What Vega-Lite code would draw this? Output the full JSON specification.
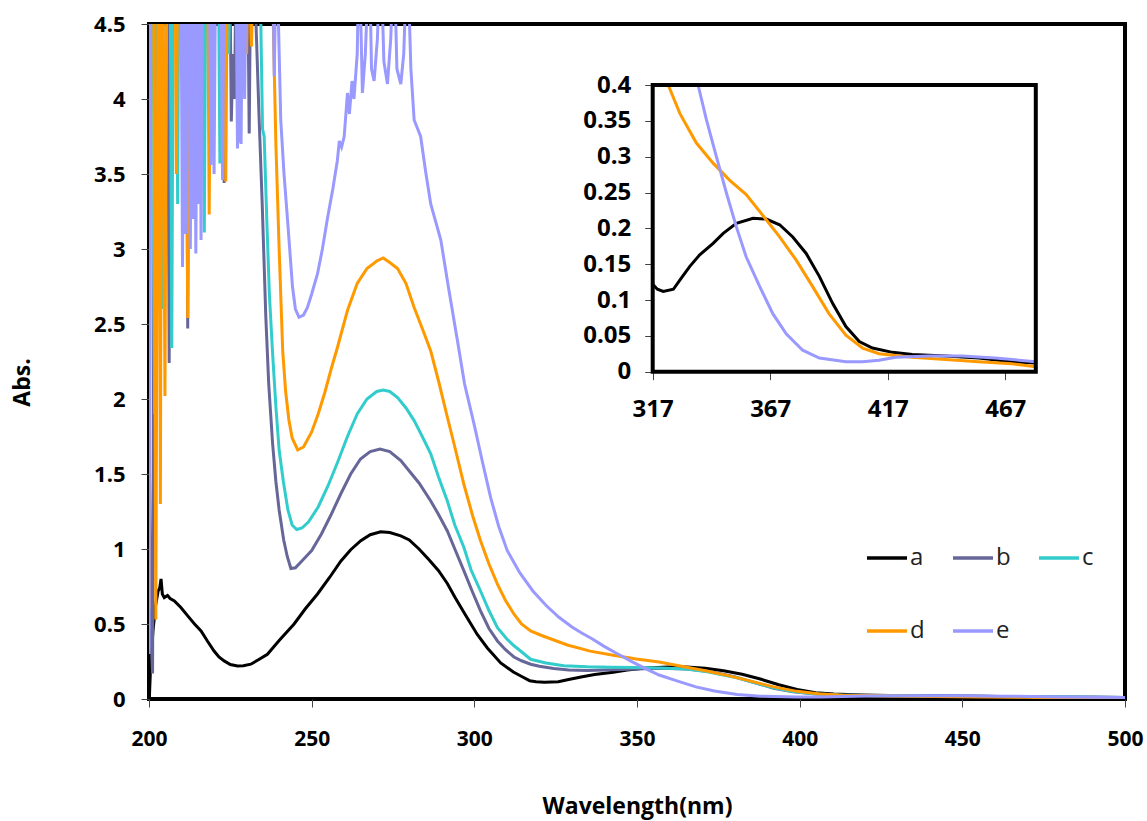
{
  "$schema": "https://vega.github.io/schema/vega-lite/v6.json",
  "width": 976,
  "height": 675,
  "autosize": {"type": "none"},
  "padding": {"left": 149, "top": 24, "right": 22, "bottom": 122},
  "background": "white",
  "config": {
    "font": "Open Sans",
    "view": {"stroke": "black", "strokeWidth": 4},
    "axis": {"grid": false, "domain": false, "labelColor": "black", "tickColor": "#444", "tickWidth": 1, "labelFlush": false, "labelFontWeight": "bold", "titleColor": "black", "titleFontWeight": "bold"}
  },
  "datasets": {
    "spectra": [
      {"s":"a","x":200.1,"y":0.0},{"s":"a","x":200.4,"y":0.17},{"s":"a","x":201.2,"y":0.45},{"s":"a","x":202,"y":0.62},{"s":"a","x":202.8,"y":0.72},{"s":"a","x":203.3,"y":0.74},{"s":"a","x":203.7,"y":0.8},{"s":"a","x":204.1,"y":0.7},{"s":"a","x":204.7,"y":0.676},{"s":"a","x":205.7,"y":0.69},{"s":"a","x":206.5,"y":0.67},{"s":"a","x":207.8,"y":0.654},{"s":"a","x":209.8,"y":0.61},{"s":"a","x":211.9,"y":0.554},{"s":"a","x":214,"y":0.5},{"s":"a","x":216,"y":0.454},{"s":"a","x":218,"y":0.385},{"s":"a","x":220,"y":0.32},{"s":"a","x":221.5,"y":0.28},{"s":"a","x":223.1,"y":0.254},{"s":"a","x":225,"y":0.23},{"s":"a","x":227.2,"y":0.22},{"s":"a","x":229,"y":0.222},{"s":"a","x":231.3,"y":0.232},{"s":"a","x":233.5,"y":0.26},{"s":"a","x":236.4,"y":0.298},{"s":"a","x":240,"y":0.39},{"s":"a","x":244.6,"y":0.5},{"s":"a","x":248,"y":0.6},{"s":"a","x":251.8,"y":0.7},{"s":"a","x":255.5,"y":0.81},{"s":"a","x":259,"y":0.92},{"s":"a","x":262,"y":0.995},{"s":"a","x":265.1,"y":1.055},{"s":"a","x":268,"y":1.095},{"s":"a","x":271.2,"y":1.115},{"s":"a","x":274,"y":1.11},{"s":"a","x":277.4,"y":1.088},{"s":"a","x":280,"y":1.06},{"s":"a","x":283,"y":1.0},{"s":"a","x":286,"y":0.93},{"s":"a","x":289,"y":0.855},{"s":"a","x":291.7,"y":0.77},{"s":"a","x":294,"y":0.68},{"s":"a","x":297,"y":0.57},{"s":"a","x":300.9,"y":0.43},{"s":"a","x":304,"y":0.34},{"s":"a","x":308.1,"y":0.24},{"s":"a","x":312,"y":0.18},{"s":"a","x":315,"y":0.145},{"s":"a","x":317,"y":0.122},{"s":"a","x":319,"y":0.115},{"s":"a","x":321.5,"y":0.112},{"s":"a","x":325.8,"y":0.115},{"s":"a","x":329,"y":0.13},{"s":"a","x":332.8,"y":0.147},{"s":"a","x":337,"y":0.163},{"s":"a","x":342.7,"y":0.179},{"s":"a","x":347,"y":0.193},{"s":"a","x":352.6,"y":0.207},{"s":"a","x":359.7,"y":0.214},{"s":"a","x":365.3,"y":0.213},{"s":"a","x":371,"y":0.205},{"s":"a","x":376.6,"y":0.188},{"s":"a","x":382.3,"y":0.165},{"s":"a","x":387.9,"y":0.133},{"s":"a","x":393.6,"y":0.095},{"s":"a","x":399.2,"y":0.063},{"s":"a","x":404.9,"y":0.042},{"s":"a","x":410.5,"y":0.033},{"s":"a","x":419,"y":0.027},{"s":"a","x":427.5,"y":0.024},{"s":"a","x":441.6,"y":0.022},{"s":"a","x":455.7,"y":0.019},{"s":"a","x":469.8,"y":0.014},{"s":"a","x":480,"y":0.012},{"s":"a","x":490,"y":0.011},{"s":"a","x":500,"y":0.01},

      {"s":"b","x":200,"y":2.0},{"s":"b","x":200.5,"y":0.5},{"s":"b","x":201.1,"y":0.17},{"s":"b","x":201.8,"y":5},{"s":"b","x":205.7,"y":5},{"s":"b","x":206.2,"y":2.24},{"s":"b","x":206.7,"y":5},{"s":"b","x":211.4,"y":5},{"s":"b","x":211.9,"y":2.47},{"s":"b","x":212.4,"y":5},{"s":"b","x":222.6,"y":5},{"s":"b","x":223.1,"y":3.44},{"s":"b","x":223.6,"y":5},{"s":"b","x":224.8,"y":5},{"s":"b","x":225.3,"y":3.85},{"s":"b","x":225.8,"y":4.3},{"s":"b","x":226.3,"y":4.0},{"s":"b","x":226.8,"y":5},{"s":"b","x":230.3,"y":5},{"s":"b","x":230.8,"y":3.77},{"s":"b","x":231.3,"y":5},{"s":"b","x":232.4,"y":5},{"s":"b","x":232.9,"y":4.5},{"s":"b","x":233.8,"y":3.9},{"s":"b","x":234.8,"y":3.3},{"s":"b","x":235.9,"y":2.55},{"s":"b","x":236.8,"y":2.1},{"s":"b","x":238,"y":1.7},{"s":"b","x":239,"y":1.45},{"s":"b","x":240,"y":1.26},{"s":"b","x":241.4,"y":1.06},{"s":"b","x":242.5,"y":0.95},{"s":"b","x":243.6,"y":0.87},{"s":"b","x":245,"y":0.875},{"s":"b","x":247,"y":0.92},{"s":"b","x":250,"y":0.99},{"s":"b","x":253,"y":1.1},{"s":"b","x":256,"y":1.23},{"s":"b","x":259,"y":1.37},{"s":"b","x":262,"y":1.5},{"s":"b","x":265,"y":1.6},{"s":"b","x":268,"y":1.65},{"s":"b","x":271,"y":1.667},{"s":"b","x":274,"y":1.65},{"s":"b","x":277.4,"y":1.59},{"s":"b","x":280,"y":1.52},{"s":"b","x":283,"y":1.44},{"s":"b","x":286.6,"y":1.32},{"s":"b","x":289,"y":1.23},{"s":"b","x":291.7,"y":1.12},{"s":"b","x":294,"y":1.0},{"s":"b","x":296.8,"y":0.854},{"s":"b","x":299.5,"y":0.71},{"s":"b","x":301.9,"y":0.587},{"s":"b","x":304.5,"y":0.47},{"s":"b","x":307.1,"y":0.387},{"s":"b","x":309.5,"y":0.33},{"s":"b","x":312.2,"y":0.28},{"s":"b","x":314.5,"y":0.255},{"s":"b","x":317.3,"y":0.232},{"s":"b","x":320,"y":0.218},{"s":"b","x":324.4,"y":0.204},{"s":"b","x":329,"y":0.193},{"s":"b","x":334.7,"y":0.19},{"s":"b","x":340,"y":0.193},{"s":"b","x":345,"y":0.197},{"s":"b","x":350,"y":0.2},{"s":"b","x":357,"y":0.205},{"s":"b","x":365,"y":0.2},{"s":"b","x":372,"y":0.185},{"s":"b","x":380,"y":0.148},{"s":"b","x":386,"y":0.11},{"s":"b","x":392,"y":0.072},{"s":"b","x":398,"y":0.048},{"s":"b","x":405,"y":0.033},{"s":"b","x":412,"y":0.027},{"s":"b","x":420,"y":0.024},{"s":"b","x":440,"y":0.02},{"s":"b","x":460,"y":0.017},{"s":"b","x":480,"y":0.013},{"s":"b","x":500,"y":0.01},

      {"s":"c","x":200,"y":1.5},{"s":"c","x":200.15,"y":1.19},{"s":"c","x":200.6,"y":5},{"s":"c","x":201.3,"y":5},{"s":"c","x":201.7,"y":1.9},{"s":"c","x":202.1,"y":5},{"s":"c","x":203.6,"y":5},{"s":"c","x":204,"y":2.6},{"s":"c","x":204.4,"y":5},{"s":"c","x":206.5,"y":5},{"s":"c","x":207,"y":2.34},{"s":"c","x":207.5,"y":5},{"s":"c","x":208.4,"y":5},{"s":"c","x":208.8,"y":3.3},{"s":"c","x":209.2,"y":5},{"s":"c","x":216.5,"y":5},{"s":"c","x":217,"y":3.11},{"s":"c","x":217.5,"y":5},{"s":"c","x":221.3,"y":5},{"s":"c","x":221.8,"y":3.57},{"s":"c","x":222.3,"y":5},{"s":"c","x":224,"y":5},{"s":"c","x":224.5,"y":4.3},{"s":"c","x":225,"y":5},{"s":"c","x":234,"y":5},{"s":"c","x":234.9,"y":3.8},{"s":"c","x":235.4,"y":3.75},{"s":"c","x":236.2,"y":3.2},{"s":"c","x":237,"y":2.7},{"s":"c","x":238,"y":2.3},{"s":"c","x":239,"y":1.95},{"s":"c","x":240,"y":1.66},{"s":"c","x":241.3,"y":1.45},{"s":"c","x":242.7,"y":1.26},{"s":"c","x":244,"y":1.16},{"s":"c","x":245.4,"y":1.13},{"s":"c","x":247,"y":1.14},{"s":"c","x":249,"y":1.18},{"s":"c","x":252,"y":1.28},{"s":"c","x":255,"y":1.42},{"s":"c","x":258,"y":1.58},{"s":"c","x":261,"y":1.75},{"s":"c","x":264,"y":1.9},{"s":"c","x":267,"y":2.0},{"s":"c","x":270,"y":2.05},{"s":"c","x":272,"y":2.06},{"s":"c","x":274,"y":2.05},{"s":"c","x":276.4,"y":2.01},{"s":"c","x":279,"y":1.94},{"s":"c","x":281.5,"y":1.856},{"s":"c","x":284,"y":1.75},{"s":"c","x":286.6,"y":1.635},{"s":"c","x":289,"y":1.48},{"s":"c","x":291.7,"y":1.32},{"s":"c","x":294,"y":1.16},{"s":"c","x":296.8,"y":1.01},{"s":"c","x":299,"y":0.86},{"s":"c","x":301.9,"y":0.72},{"s":"c","x":304.5,"y":0.59},{"s":"c","x":307.1,"y":0.476},{"s":"c","x":310,"y":0.4},{"s":"c","x":312.2,"y":0.355},{"s":"c","x":314.2,"y":0.32},{"s":"c","x":317.3,"y":0.265},{"s":"c","x":322,"y":0.24},{"s":"c","x":327.5,"y":0.222},{"s":"c","x":334.7,"y":0.215},{"s":"c","x":342,"y":0.212},{"s":"c","x":350,"y":0.21},{"s":"c","x":357,"y":0.207},{"s":"c","x":365.3,"y":0.2},{"s":"c","x":372,"y":0.18},{"s":"c","x":380.7,"y":0.142},{"s":"c","x":386,"y":0.11},{"s":"c","x":392,"y":0.075},{"s":"c","x":398,"y":0.05},{"s":"c","x":405,"y":0.034},{"s":"c","x":412,"y":0.027},{"s":"c","x":420,"y":0.024},{"s":"c","x":440,"y":0.02},{"s":"c","x":460,"y":0.017},{"s":"c","x":480,"y":0.013},{"s":"c","x":500,"y":0.01},

      {"s":"d","x":200,"y":0.6},{"s":"d","x":200.5,"y":5},{"s":"d","x":201.4,"y":5},{"s":"d","x":202.1,"y":0.53},{"s":"d","x":202.8,"y":5},{"s":"d","x":203.1,"y":5},{"s":"d","x":203.5,"y":1.3},{"s":"d","x":203.9,"y":5},{"s":"d","x":204.3,"y":5},{"s":"d","x":204.9,"y":2.02},{"s":"d","x":205.5,"y":5},{"s":"d","x":208,"y":5},{"s":"d","x":208.4,"y":3.5},{"s":"d","x":208.8,"y":5},{"s":"d","x":211.3,"y":5},{"s":"d","x":211.9,"y":2.54},{"s":"d","x":212.5,"y":5},{"s":"d","x":218,"y":5},{"s":"d","x":218.5,"y":3.23},{"s":"d","x":219,"y":5},{"s":"d","x":223.1,"y":5},{"s":"d","x":223.6,"y":3.45},{"s":"d","x":224.1,"y":5},{"s":"d","x":227.2,"y":5},{"s":"d","x":227.7,"y":3.71},{"s":"d","x":228.2,"y":5},{"s":"d","x":229.5,"y":5},{"s":"d","x":230,"y":4.3},{"s":"d","x":230.6,"y":5},{"s":"d","x":231.5,"y":4.35},{"s":"d","x":232.2,"y":5},{"s":"d","x":237.8,"y":5},{"s":"d","x":238.3,"y":4.4},{"s":"d","x":239,"y":3.7},{"s":"d","x":240,"y":3.0},{"s":"d","x":241.1,"y":2.32},{"s":"d","x":242,"y":2.05},{"s":"d","x":243,"y":1.86},{"s":"d","x":244,"y":1.74},{"s":"d","x":245.7,"y":1.66},{"s":"d","x":247.5,"y":1.68},{"s":"d","x":250,"y":1.78},{"s":"d","x":252,"y":1.9},{"s":"d","x":254,"y":2.04},{"s":"d","x":256,"y":2.2},{"s":"d","x":258,"y":2.35},{"s":"d","x":261,"y":2.59},{"s":"d","x":264,"y":2.77},{"s":"d","x":267,"y":2.87},{"s":"d","x":270,"y":2.92},{"s":"d","x":272,"y":2.94},{"s":"d","x":274,"y":2.91},{"s":"d","x":276.4,"y":2.87},{"s":"d","x":279,"y":2.77},{"s":"d","x":281.5,"y":2.61},{"s":"d","x":284,"y":2.47},{"s":"d","x":286.6,"y":2.32},{"s":"d","x":289,"y":2.12},{"s":"d","x":291.7,"y":1.88},{"s":"d","x":294,"y":1.68},{"s":"d","x":296.8,"y":1.43},{"s":"d","x":299.5,"y":1.22},{"s":"d","x":301.9,"y":1.055},{"s":"d","x":304.5,"y":0.9},{"s":"d","x":307.1,"y":0.766},{"s":"d","x":309.5,"y":0.66},{"s":"d","x":312.2,"y":0.565},{"s":"d","x":314.5,"y":0.5},{"s":"d","x":317.3,"y":0.454},{"s":"d","x":320.5,"y":0.425},{"s":"d","x":323.6,"y":0.4},{"s":"d","x":328.6,"y":0.36},{"s":"d","x":335.6,"y":0.319},{"s":"d","x":342.7,"y":0.291},{"s":"d","x":349.8,"y":0.267},{"s":"d","x":356.8,"y":0.247},{"s":"d","x":365.3,"y":0.212},{"s":"d","x":371,"y":0.188},{"s":"d","x":378,"y":0.156},{"s":"d","x":385,"y":0.119},{"s":"d","x":392,"y":0.081},{"s":"d","x":399.2,"y":0.051},{"s":"d","x":406.3,"y":0.033},{"s":"d","x":413.3,"y":0.025},{"s":"d","x":427.5,"y":0.02},{"s":"d","x":441.6,"y":0.017},{"s":"d","x":455.7,"y":0.014},{"s":"d","x":469.8,"y":0.011},{"s":"d","x":480,"y":0.007},{"s":"d","x":490,"y":0.006},{"s":"d","x":500,"y":0.005},

      {"s":"e","x":200,"y":0.3},{"s":"e","x":200.4,"y":5},{"s":"e","x":209.8,"y":5},{"s":"e","x":210.3,"y":2.88},{"s":"e","x":210.8,"y":5},{"s":"e","x":211.2,"y":3.1},{"s":"e","x":211.6,"y":5},{"s":"e","x":212.2,"y":5},{"s":"e","x":212.7,"y":3.0},{"s":"e","x":213.2,"y":5},{"s":"e","x":213.6,"y":3.2},{"s":"e","x":213.9,"y":5},{"s":"e","x":214.4,"y":2.97},{"s":"e","x":214.9,"y":5},{"s":"e","x":215.2,"y":3.3},{"s":"e","x":215.5,"y":5},{"s":"e","x":216,"y":3.06},{"s":"e","x":216.5,"y":5},{"s":"e","x":218.5,"y":5},{"s":"e","x":219,"y":3.56},{"s":"e","x":219.5,"y":5},{"s":"e","x":220,"y":3.5},{"s":"e","x":220.5,"y":5},{"s":"e","x":222.1,"y":5},{"s":"e","x":222.6,"y":3.46},{"s":"e","x":223.1,"y":5},{"s":"e","x":226.7,"y":5},{"s":"e","x":227.2,"y":3.67},{"s":"e","x":227.6,"y":5},{"s":"e","x":227.9,"y":5},{"s":"e","x":228.3,"y":3.7},{"s":"e","x":228.8,"y":5},{"s":"e","x":229.4,"y":4.0},{"s":"e","x":229.9,"y":5},{"s":"e","x":238,"y":5},{"s":"e","x":238.5,"y":4.15},{"s":"e","x":239.1,"y":5},{"s":"e","x":239.8,"y":4.5},{"s":"e","x":240.5,"y":3.86},{"s":"e","x":241.5,"y":3.5},{"s":"e","x":242.6,"y":3.19},{"s":"e","x":244.1,"y":2.75},{"s":"e","x":245,"y":2.6},{"s":"e","x":246.1,"y":2.545},{"s":"e","x":247.5,"y":2.56},{"s":"e","x":248.7,"y":2.61},{"s":"e","x":250,"y":2.7},{"s":"e","x":251.8,"y":2.835},{"s":"e","x":253.3,"y":3.0},{"s":"e","x":254.9,"y":3.21},{"s":"e","x":256.5,"y":3.4},{"s":"e","x":257.9,"y":3.59},{"s":"e","x":258.5,"y":3.72},{"s":"e","x":259.2,"y":3.68},{"s":"e","x":260,"y":3.75},{"s":"e","x":261,"y":4.04},{"s":"e","x":261.6,"y":3.9},{"s":"e","x":262.4,"y":4.12},{"s":"e","x":263,"y":4.0},{"s":"e","x":264,"y":4.3},{"s":"e","x":264.6,"y":5},{"s":"e","x":265.6,"y":4.04},{"s":"e","x":266.5,"y":4.3},{"s":"e","x":267.7,"y":5},{"s":"e","x":268.4,"y":4.2},{"s":"e","x":269.2,"y":4.12},{"s":"e","x":270.2,"y":4.4},{"s":"e","x":271.2,"y":5},{"s":"e","x":272.2,"y":4.25},{"s":"e","x":273.3,"y":4.1},{"s":"e","x":274.3,"y":4.4},{"s":"e","x":275.3,"y":5},{"s":"e","x":276.2,"y":4.2},{"s":"e","x":277.4,"y":4.1},{"s":"e","x":278.3,"y":4.3},{"s":"e","x":279.4,"y":5},{"s":"e","x":280.5,"y":4.2},{"s":"e","x":281.5,"y":3.86},{"s":"e","x":283.5,"y":3.75},{"s":"e","x":285,"y":3.52},{"s":"e","x":286.6,"y":3.3},{"s":"e","x":289.7,"y":3.06},{"s":"e","x":292,"y":2.75},{"s":"e","x":294.8,"y":2.39},{"s":"e","x":297,"y":2.1},{"s":"e","x":299.9,"y":1.834},{"s":"e","x":302.5,"y":1.58},{"s":"e","x":305,"y":1.344},{"s":"e","x":307.5,"y":1.15},{"s":"e","x":310.1,"y":0.99},{"s":"e","x":314,"y":0.84},{"s":"e","x":318,"y":0.72},{"s":"e","x":322,"y":0.625},{"s":"e","x":326,"y":0.545},{"s":"e","x":330,"y":0.48},{"s":"e","x":333,"y":0.44},{"s":"e","x":336.3,"y":0.4},{"s":"e","x":339.9,"y":0.351},{"s":"e","x":344.1,"y":0.3},{"s":"e","x":348.4,"y":0.249},{"s":"e","x":352.6,"y":0.202},{"s":"e","x":356.8,"y":0.16},{"s":"e","x":362.5,"y":0.119},{"s":"e","x":368.1,"y":0.081},{"s":"e","x":373.8,"y":0.053},{"s":"e","x":380.8,"y":0.03},{"s":"e","x":387.9,"y":0.019},{"s":"e","x":399.2,"y":0.014},{"s":"e","x":406.3,"y":0.014},{"s":"e","x":413.3,"y":0.016},{"s":"e","x":420.4,"y":0.02},{"s":"e","x":434.5,"y":0.022},{"s":"e","x":448.6,"y":0.022},{"s":"e","x":462.7,"y":0.019},{"s":"e","x":480,"y":0.014},{"s":"e","x":490,"y":0.012},{"s":"e","x":500,"y":0.01}
    ],
    "insetFrame": [{"x1": 317, "x2": 480, "y1": 0, "y2": 0.4}]
  },
  "layer": [
    {
      "data": {"name": "spectra"},
      "mark": {"type": "line", "clip": true, "strokeWidth": 3},
      "encoding": {
        "x": {"field": "x", "type": "quantitative",
          "scale": {"domain": [200, 500], "nice": false, "zero": false},
          "axis": {"values": [200, 250, 300, 350, 400, 450, 500], "tickSize": 8, "labelFontSize": 21, "labelPadding": 21,
            "title": "Wavelength(nm)", "titleFontSize": 23, "titleX": 488, "titleY": 107, "titleBaseline": "middle", "titleAlign": "center"}},
        "y": {"field": "y", "type": "quantitative",
          "scale": {"domain": [0, 4.5], "nice": false, "zero": true},
          "axis": {"values": [0, 0.5, 1, 1.5, 2, 2.5, 3, 3.5, 4, 4.5], "format": "~g", "tickSize": 8, "labelFontSize": 22, "labelPadding": 16,
            "title": "Abs.", "titleFontSize": 23, "titleX": -127, "titleY": 358, "titleBaseline": "middle", "titleAlign": "center", "titleAngle": -90}},
        "color": {"field": "s", "type": "nominal",
          "scale": {"domain": ["a", "b", "c", "d", "e"], "range": ["#000000", "#666699", "#33CCCC", "#FF9900", "#9999FF"]},
          "legend": {"orient": "none", "legendX": 716, "legendY": 512, "direction": "horizontal", "columns": 3, "title": null,
            "symbolType": "stroke", "symbolSize": 1600, "symbolStrokeWidth": 3.5, "labelFontSize": 24, "labelFontWeight": "normal",
            "labelOffset": 1, "columnPadding": 21, "rowPadding": 39, "labelColor": "#222", "padding": 0}}
      }
    },
    {
      "layer": [
        {
          "data": {"name": "spectra"},
          "transform": [{"filter": "datum.x >= 317 && datum.x <= 480 && datum.y <= 0.4 && (datum.s == 'a' || datum.s == 'd' || datum.s == 'e')"}],
          "mark": {"type": "line", "strokeWidth": 3},
          "encoding": {
            "x": {"field": "x", "type": "quantitative",
              "scale": {"domain": [317, 480], "range": [503.7, 886.8], "nice": false, "zero": false},
              "axis": {"orient": "bottom", "offset": -327.3, "values": [317, 367, 417, 467], "tickSize": 8, "labelFontSize": 24, "labelPadding": 18, "title": null}},
            "y": {"field": "y", "type": "quantitative",
              "scale": {"domain": [0, 0.4], "range": [347.7, 61], "nice": false, "zero": true},
              "axis": {"orient": "left", "offset": -503.7, "values": [0, 0.05, 0.1, 0.15, 0.2, 0.25, 0.3, 0.35, 0.4], "format": "~g", "tickSize": 8, "labelFontSize": 24, "labelPadding": 14, "title": null}},
            "color": {"field": "s", "type": "nominal",
              "scale": {"domain": ["a", "b", "c", "d", "e"], "range": ["#000000", "#666699", "#33CCCC", "#FF9900", "#9999FF"]}}
          }
        },
        {
          "data": {"name": "insetFrame"},
          "mark": {"type": "rect", "fill": "transparent", "stroke": "black", "strokeWidth": 4},
          "encoding": {
            "x": {"field": "x1", "type": "quantitative",
              "scale": {"domain": [317, 480], "range": [503.7, 886.8], "nice": false, "zero": false},
              "axis": {"orient": "bottom", "offset": -327.3, "values": [317, 367, 417, 467], "tickSize": 8, "labelFontSize": 24, "labelPadding": 18, "title": null}},
            "x2": {"field": "x2"},
            "y": {"field": "y1", "type": "quantitative",
              "scale": {"domain": [0, 0.4], "range": [347.7, 61], "nice": false, "zero": true},
              "axis": {"orient": "left", "offset": -503.7, "values": [0, 0.05, 0.1, 0.15, 0.2, 0.25, 0.3, 0.35, 0.4], "format": "~g", "tickSize": 8, "labelFontSize": 24, "labelPadding": 14, "title": null}},
            "y2": {"field": "y2"}
          }
        }
      ]
    }
  ],
  "resolve": {"scale": {"x": "independent", "y": "independent"}, "axis": {"x": "independent", "y": "independent"}}
}
